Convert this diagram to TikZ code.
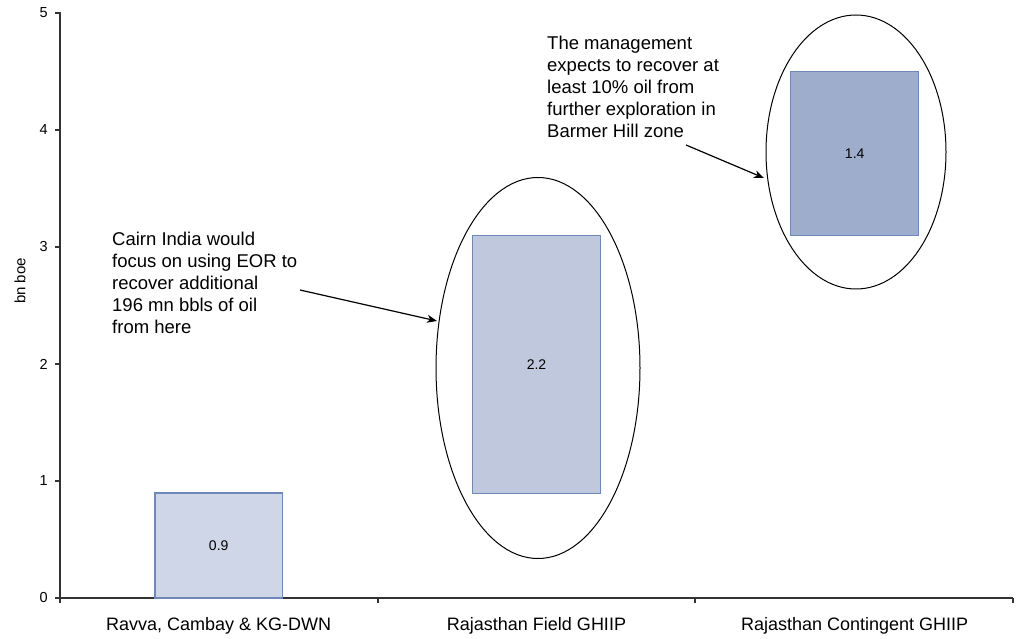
\documentclass[tikz,border=0pt]{standalone}
\usepackage{fontspec}
\setmainfont{Liberation Sans}
\usetikzlibrary{shapes.geometric,arrows.meta}
\definecolor{axisc}{HTML}{333333}
\definecolor{barline}{HTML}{6F88BA}
\definecolor{barA}{HTML}{CFD6E7}
\definecolor{barB}{HTML}{BFC8DD}
\definecolor{barC}{HTML}{9DADCB}
\tikzset{
  axisline/.style={draw=axisc, line width=1.4pt},
  bar/.style={draw=barline, line width=1.2pt, rectangle, inner sep=0pt, font=\fontsize{14}{16}\selectfont},
  ring/.style={draw=black, line width=1pt, ellipse, inner sep=0pt},
  note/.style={align=left, anchor=north west, inner sep=0pt, font=\fontsize{18.5}{22}\selectfont},
  ticklab/.style={anchor=east, inner sep=0pt, font=\fontsize{14.5}{16}\selectfont},
  catlab/.style={inner sep=0pt, font=\fontsize{18}{20}\selectfont},
  pointer/.style={draw=black, line width=1.2pt, -{Stealth[length=10pt,width=8pt,inset=3pt]}}
}
\begin{document}
\begin{tikzpicture}[x=1pt,y=-1pt]
\useasboundingbox (0,0) rectangle (1021,639);
% axes
\coordinate (o) at (60,598);
\coordinate (ytop) at (60,12);
\coordinate (xend) at (1013,598);
\draw[axisline] (ytop) -- (o) -- (xend);
\foreach \v in {0,...,5} {
  \draw[axisline] (55,{598-117*\v}) -- (60,{598-117*\v});
  \node[ticklab] (t\v) at (48,{598-117*\v}) {\v};
}
\foreach \x in {60,378,695,1013} {
  \draw[axisline] (\x,598) -- (\x,603);
}
\node[rotate=90, inner sep=0pt, font=\fontsize{15}{17}\selectfont] (ylab) at (20,281) {bn boe};
% bars
\node[bar, fill=barA, minimum width=127.5pt, minimum height=105pt] (b1) at (218.7,545.5) {0.9};
\node[bar, fill=barB, minimum width=127.5pt, minimum height=257.5pt] (b2) at (536.5,364.5) {2.2};
\node[bar, fill=barC, minimum width=128pt, minimum height=164.5pt] (b3) at (854.7,153.5) {1.4};
% category labels
\node[catlab] (c1) at (218.7,626) {Ravva, Cambay \& KG-DWN};
\node[catlab] (c2) at (536.5,626) {Rajasthan Field GHIIP};
\node[catlab] (c3) at (854.7,626) {Rajasthan Contingent GHIIP};
% ellipses
\node[ring, minimum width=204pt, minimum height=381pt] (e1) at (538,368) {};
\node[ring, minimum width=180pt, minimum height=274pt] (e2) at (856,152) {};
% notes
\node[note] (n1) at (112,232) {Cairn India would\\focus on using EOR to\\recover additional\\196 mn bbls of oil\\from here};
\node[note] (n2) at (547,36) {The management\\expects to recover at\\least 10\% oil from\\further exploration in\\Barmer Hill zone};
\coordinate (a1s) at (300,290);
\coordinate (a1e) at (437,321);
\coordinate (a2s) at (686,145);
\coordinate (a2e) at (764,178);
\draw[pointer] (a1s) -- (a1e);
\draw[pointer] (a2s) -- (a2e);
\end{tikzpicture}
\end{document}
